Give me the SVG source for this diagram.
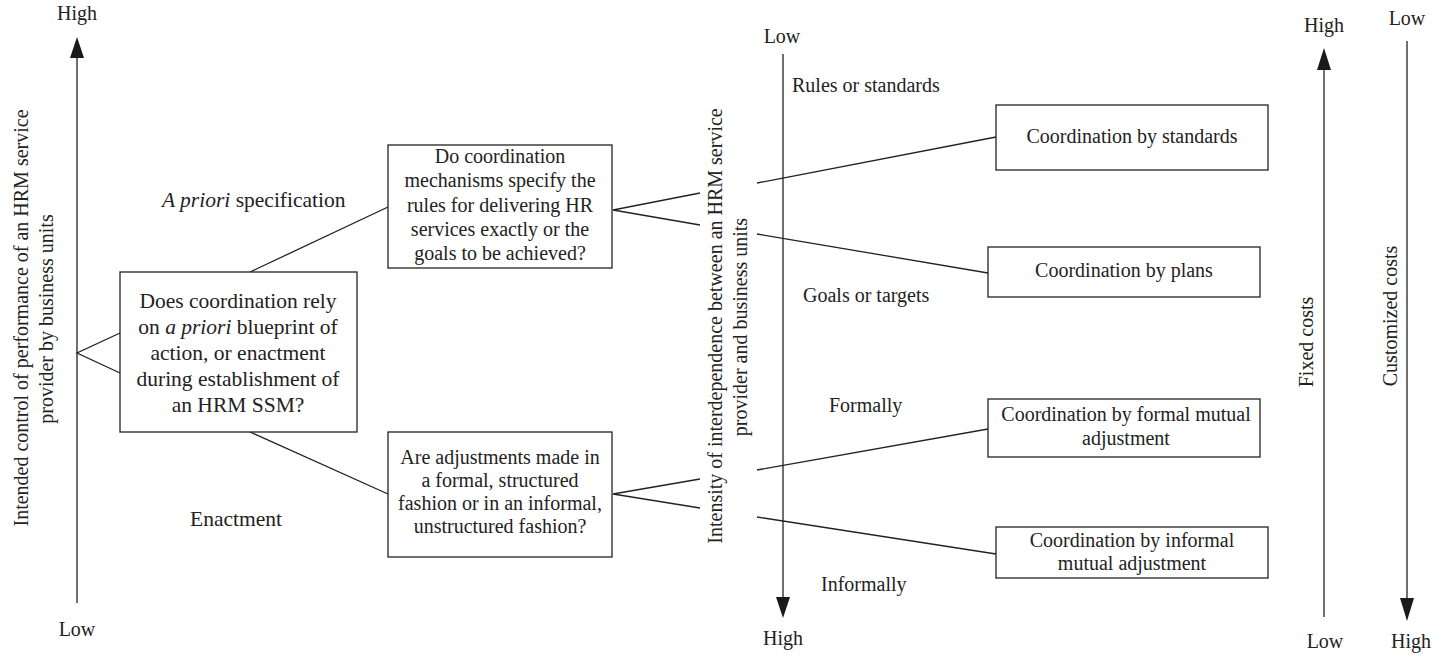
<svg xmlns="http://www.w3.org/2000/svg" width="1435" height="656" viewBox="0 0 1435 656" font-family="'Liberation Serif', 'Times New Roman', Times, 'DejaVu Serif', serif">
<style>
text{font-family:'Liberation Serif','Times New Roman',Times,'DejaVu Serif',serif;fill:#222;font-size:20px}
.c{text-anchor:middle}
.lg{font-size:21.5px}
.box{fill:#fff;stroke:#222;stroke-width:1.3}
.ln{stroke:#222;stroke-width:1.3;fill:none}
.ah{fill:#1a1a1a}
</style>
<rect width="1435" height="656" fill="#fff"/>
<g id="axis-left">
<line class="ln" x1="77" y1="603" x2="77" y2="56"/>
<polygon class="ah" points="77,37 70,58 84,58"/>
<text class="c" x="77" y="20">High</text>
<text class="c" x="77" y="636">Low</text>
<text class="c" transform="translate(28,318) rotate(-90)">Intended control of performance of an HRM service</text>
<text class="c" transform="translate(53,319) rotate(-90)">provider by business units</text>
</g>
<g id="axis-middle">
<line class="ln" x1="783" y1="54" x2="783" y2="599"/>
<polygon class="ah" points="783,618 776,597 790,597"/>
<text class="c" x="782" y="43">Low</text>
<text class="c" x="783" y="645">High</text>
<text class="c" transform="translate(722,326) rotate(-90)">Intensity of interdependence between an HRM service</text>
<text class="c" transform="translate(747,327) rotate(-90)">provider and business units</text>
<text x="792" y="92">Rules or standards</text>
<text x="803" y="302">Goals or targets</text>
<text x="829" y="412">Formally</text>
<text x="821" y="591">Informally</text>
</g>
<g id="axis-fixed">
<line class="ln" x1="1324" y1="617" x2="1324" y2="68"/>
<polygon class="ah" points="1324,48 1317,70 1331,70"/>
<text class="c" x="1324" y="32">High</text>
<text class="c" x="1325" y="648">Low</text>
<text class="c" transform="translate(1313,342) rotate(-90)">Fixed costs</text>
</g>
<g id="axis-customized">
<line class="ln" x1="1407" y1="41" x2="1407" y2="600"/>
<polygon class="ah" points="1407,621 1400,598 1414,598"/>
<text class="c" x="1407" y="25">Low</text>
<text class="c" x="1411" y="648">High</text>
<text class="c" transform="translate(1397,316) rotate(-90)">Customized costs</text>
</g>
<g id="connectors">
<polyline class="ln" points="120,333 77,353 120,373"/>
<line class="ln" x1="250" y1="272" x2="388" y2="207"/>
<line class="ln" x1="250" y1="432" x2="388" y2="494"/>
<polyline class="ln" points="700,193 613,210 700,225"/>
<polyline class="ln" points="700,479 613,494 700,508"/>
<line class="ln" x1="757" y1="183" x2="996" y2="137"/>
<line class="ln" x1="757" y1="234" x2="988" y2="273"/>
<line class="ln" x1="757" y1="470" x2="988" y2="429"/>
<line class="ln" x1="757" y1="517" x2="996" y2="554"/>
</g>
<g id="label-apriori">
<text class="lg" x="162" y="207"><tspan font-style="italic">A priori</tspan> specification</text>
</g>
<g id="label-enactment">
<text class="lg" x="190" y="526">Enactment</text>
</g>
<g id="node-main">
<rect class="box" x="120" y="272" width="237" height="160"/>
<text class="c lg" x="238" y="308">Does coordination rely</text>
<text class="c lg" x="238" y="334">on <tspan font-style="italic">a priori</tspan> blueprint of</text>
<text class="c lg" x="238" y="360">action, or enactment</text>
<text class="c lg" x="238" y="386">during establishment of</text>
<text class="c lg" x="238" y="412">an HRM SSM?</text>
</g>
<g id="node-specify">
<rect class="box" x="388" y="145" width="224" height="123"/>
<text class="c" x="500" y="163">Do coordination</text>
<text class="c" x="500" y="187">mechanisms specify the</text>
<text class="c" x="500" y="212">rules for delivering HR</text>
<text class="c" x="500" y="236">services exactly or the</text>
<text class="c" x="500" y="260">goals to be achieved?</text>
</g>
<g id="node-adjust">
<rect class="box" x="388" y="432" width="224" height="125"/>
<text class="c" x="500" y="464">Are adjustments made in</text>
<text class="c" x="500" y="487">a formal, structured</text>
<text class="c" x="500" y="510">fashion or in an informal,</text>
<text class="c" x="500" y="533">unstructured fashion?</text>
</g>
<g id="node-standards">
<rect class="box" x="996" y="105" width="272" height="65"/>
<text class="c" x="1132" y="143">Coordination by standards</text>
</g>
<g id="node-plans">
<rect class="box" x="988" y="247" width="272" height="50"/>
<text class="c" x="1124" y="277">Coordination by plans</text>
</g>
<g id="node-formal">
<rect class="box" x="988" y="399" width="272" height="58"/>
<text class="c" x="1126" y="421">Coordination by formal mutual</text>
<text class="c" x="1126" y="445">adjustment</text>
</g>
<g id="node-informal">
<rect class="box" x="996" y="527" width="272" height="51"/>
<text class="c" x="1132" y="547">Coordination by informal</text>
<text class="c" x="1132" y="570">mutual adjustment</text>
</g>
</svg>
